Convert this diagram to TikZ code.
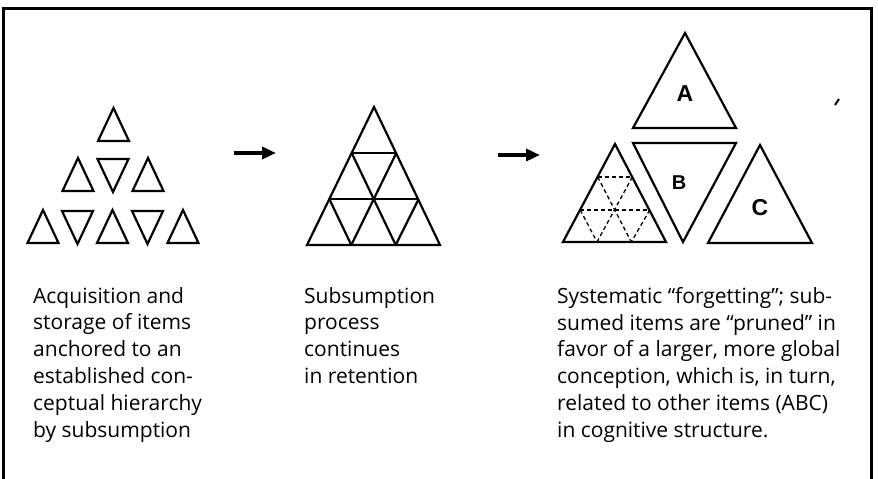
\documentclass[tikz,border=0pt]{standalone}
\usepackage{fontspec}
\setmainfont{Open Sans}
\newfontfamily\lblfont{Liberation Sans}
\usetikzlibrary{arrows.meta}
\begin{document}
\begin{tikzpicture}[x=1pt,y=-1pt,line join=miter,
  tri/.style={line width=2.2pt},
  dtri/.style={line width=1.3pt,dash pattern=on 4pt off 3pt},
  fat/.style={line width=4pt,-{Triangle[length=14pt,width=12pt]}},
  caption/.style={anchor=north west,align=left,inner sep=0pt,font=\fontsize{21}{26.8}\selectfont},
  big/.style={font=\lblfont\bfseries\fontsize{23}{23}\selectfont,inner sep=0pt},
  utri/.pic={\draw[tri] (-15.5,0)--(0,-33)--(15.5,0)--cycle;},
  dtrip/.pic={\draw[tri] (-15.5,0)--(15.5,0)--(0,33)--cycle;}]
\useasboundingbox (0,0) rectangle (878,479);
% frame
\draw[line width=3pt] (3,490) -- (3,8) -- (871,8) -- (871,490);
% stage 1: separate items
\pic at (113.5,141) {utri};
\pic at (78,191) {utri};
\pic at (113,159) {dtrip};
\pic at (148,191) {utri};
\pic at (43,243) {utri};
\pic at (77.5,211) {dtrip};
\pic at (112.5,243) {utri};
\pic at (147.5,211) {dtrip};
\pic at (183,243) {utri};
% arrow 1
\coordinate (a1s) at (234,153);
\coordinate (a1e) at (276,153);
\draw[fat] (a1s) -- (a1e);
% stage 2: subdivided triangle
\coordinate (p00) at (374,107);
\coordinate (p10) at (351.7,153); \coordinate (p11) at (396.3,153);
\coordinate (p20) at (329.3,199); \coordinate (p21) at (374,199); \coordinate (p22) at (418.7,199);
\coordinate (p30) at (307,245); \coordinate (p31) at (351.3,245); \coordinate (p32) at (395.7,245); \coordinate (p33) at (440,245);
\draw[tri] (p00) -- (p30) -- (p33) -- cycle;
\draw[tri] (p10) -- (p11) (p20) -- (p22);
\draw[tri] (p10) -- (p32) (p20) -- (p31);
\draw[tri] (p11) -- (p31) (p22) -- (p32);
% arrow 2
\coordinate (a2s) at (498,155);
\coordinate (a2e) at (540,155);
\draw[fat] (a2s) -- (a2e);
% stage 3
% left triangle with dashed subdivision
\coordinate (q00) at (615,144);
\coordinate (q10) at (597.7,177); \coordinate (q11) at (632.3,177);
\coordinate (q20) at (580.3,210); \coordinate (q21) at (615,210); \coordinate (q22) at (649.7,210);
\coordinate (q30) at (563,242); \coordinate (q31) at (597,242); \coordinate (q32) at (631.3,242); \coordinate (q33) at (666,242);
\draw[tri] (q00) -- (q30) -- (q33) -- cycle;
\draw[dtri] (q10) -- (q11) (q20) -- (q22);
\draw[dtri] (q10) -- (q32) (q20) -- (q31);
\draw[dtri] (q11) -- (q31) (q22) -- (q32);
% A
\draw[tri] (685,33) -- (633,128) -- (736,128) -- cycle;
\node[big] (lA) at (685,94) {A};
% B (inverted)
\draw[tri] (633,143) -- (736,143) -- (683,242) -- cycle;
\node[big,font=\lblfont\bfseries\fontsize{20}{20}\selectfont] (lB) at (679,183) {B};
% C
\draw[tri] (760,145) -- (708,243) -- (812,243) -- cycle;
\node[big] (lC) at (760,208) {C};
% stray mark
\draw[line width=2pt] (835,105) -- (839,99);
% captions
\node[caption] (t1) at (33,287) {Acquisition and\\storage of items\\anchored to an\\established con-\\ceptual hierarchy\\by subsumption};
\node[caption] (t2) at (304,287) {Subsumption\\process\\continues\\in retention};
\node[caption] (t3) at (557,287) {Systematic “forgetting”; sub-\\sumed items are “pruned” in\\favor of a larger, more global\\conception, which is, in turn,\\related to other items (ABC)\\in cognitive structure.};
\end{tikzpicture}
\end{document}
